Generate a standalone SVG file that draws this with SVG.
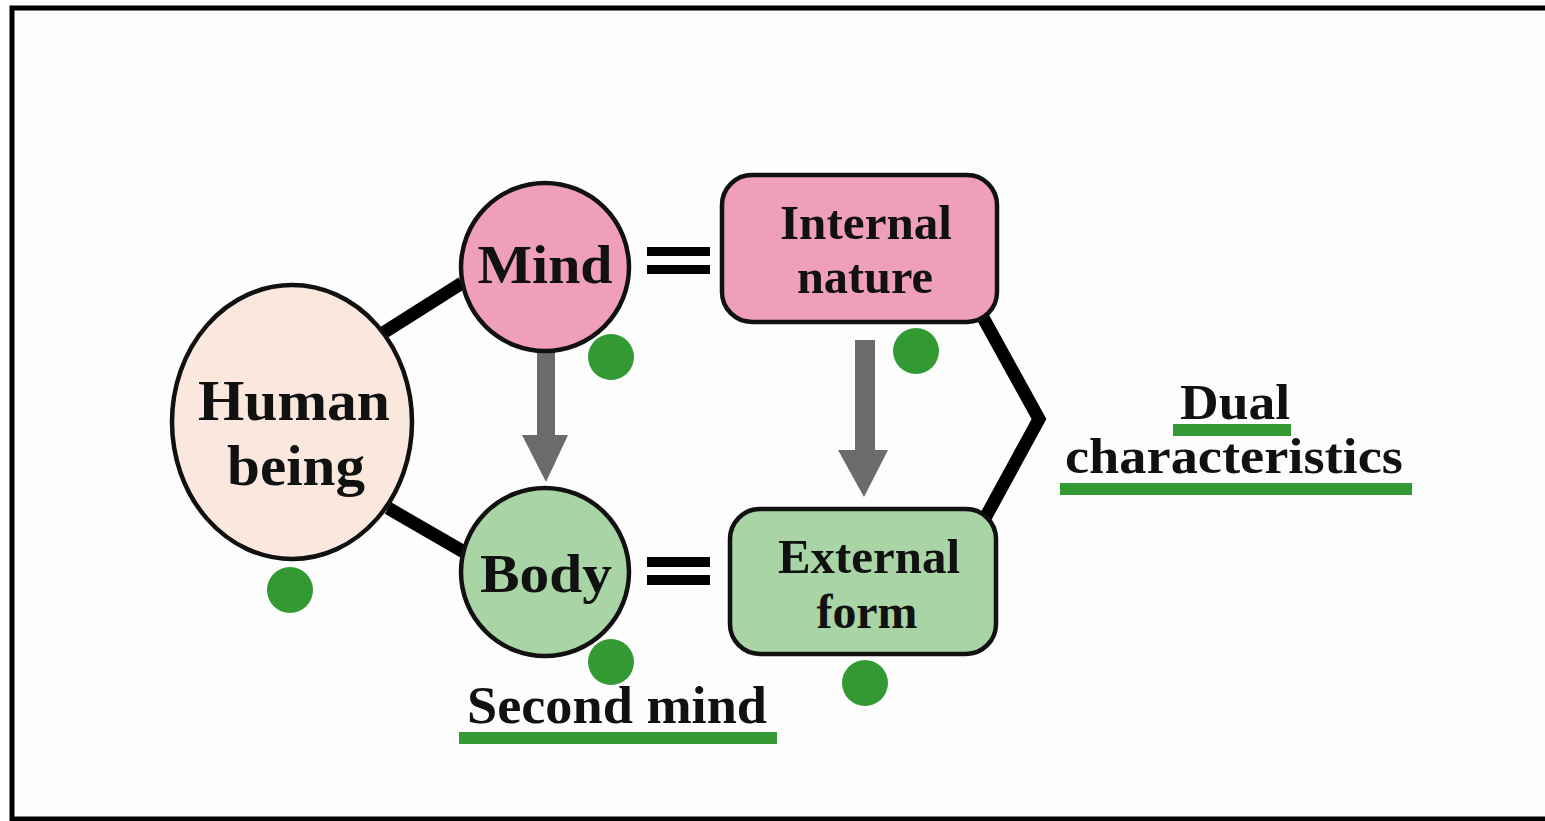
<svg xmlns="http://www.w3.org/2000/svg" width="1545" height="821" viewBox="0 0 1545 821">
  <defs>
    <style>
      .lbl { font-family: "Liberation Serif", "Times New Roman", serif; font-weight: bold; fill: #111; text-anchor: middle; }
      .node { stroke: #111; stroke-width: 4.5; }
      .pink { fill: #f09fba; }
      .green { fill: #a9d4a6; }
      .peach { fill: #fae8de; }
      .link { stroke: #000; stroke-width: 13; fill: none; }
      .flow { fill: #6b6b6b; }
      .dot { fill: #339933; }
      .uline { fill: #339933; }
      .eq { fill: #000; }
    </style>
  </defs>

  <!-- frame -->
  <rect x="0" y="0" width="1545" height="821" fill="#ffffff"/>
  <rect x="12" y="8" width="1545" height="811" fill="#fdfdfd" stroke="#000" stroke-width="5"/>

  <!-- connectors -->
  <g id="connectors">
    <line class="link" x1="383" y1="333" x2="462" y2="283"/>
    <line class="link" x1="388" y1="508" x2="464" y2="552"/>
    <polyline class="link" points="980,312 1039,419 984,520" stroke-linejoin="miter"/>
    <!-- equals signs -->
    <rect class="eq" x="647" y="247" width="63" height="9"/>
    <rect class="eq" x="647" y="265" width="63" height="9"/>
    <rect class="eq" x="647" y="557" width="63" height="10"/>
    <rect class="eq" x="647" y="575" width="63" height="10"/>
    <!-- grey arrows -->
    <path class="flow" d="M537,352 H555 V435 H568 L546,482 L522,435 H537 Z"/>
    <path class="flow" d="M855,340 H875 V450 H888 L864,497 L838,450 H855 Z"/>
  </g>

  <g id="human-being">
    <ellipse class="node peach" cx="292" cy="422" rx="120" ry="137"/>
    <text class="lbl" x="294" y="420" font-size="56" textLength="192" lengthAdjust="spacingAndGlyphs">Human</text>
    <text class="lbl" x="296" y="485" font-size="56" textLength="138" lengthAdjust="spacingAndGlyphs">being</text>
  </g>

  <g id="mind">
    <circle class="node pink" cx="545" cy="267" r="84"/>
    <text class="lbl" x="545" y="283" font-size="54" textLength="135" lengthAdjust="spacingAndGlyphs">Mind</text>
  </g>

  <g id="body">
    <circle class="node green" cx="545" cy="572" r="84"/>
    <text class="lbl" x="546" y="592" font-size="54" textLength="132" lengthAdjust="spacingAndGlyphs">Body</text>
  </g>

  <g id="internal-nature">
    <rect class="node pink" x="722" y="175" width="275" height="147" rx="30"/>
    <text class="lbl" x="866" y="239" font-size="48" textLength="172" lengthAdjust="spacingAndGlyphs">Internal</text>
    <text class="lbl" x="865" y="293" font-size="48" textLength="136" lengthAdjust="spacingAndGlyphs">nature</text>
  </g>

  <g id="external-form">
    <rect class="node green" x="730" y="509" width="266" height="145" rx="30"/>
    <text class="lbl" x="869" y="573" font-size="48" textLength="182" lengthAdjust="spacingAndGlyphs">External</text>
    <text class="lbl" x="867" y="628" font-size="48" textLength="101" lengthAdjust="spacingAndGlyphs">form</text>
  </g>

  <g id="dual-characteristics">
    <text class="lbl" x="1235" y="419" font-size="50" textLength="110" lengthAdjust="spacingAndGlyphs">Dual</text>
    <rect class="uline" x="1173" y="424" width="118" height="12"/>
    <text class="lbl" x="1234" y="473" font-size="50" textLength="338" lengthAdjust="spacingAndGlyphs">characteristics</text>
    <rect class="uline" x="1060" y="483" width="352" height="12"/>
  </g>

  <g id="second-mind">
    <text class="lbl" x="617" y="723" font-size="52" textLength="300" lengthAdjust="spacingAndGlyphs">Second mind</text>
    <rect class="uline" x="459" y="732" width="318" height="12"/>
  </g>

  <!-- markers -->
  <g id="dots">
    <circle class="dot" cx="611" cy="357" r="23"/>
    <circle class="dot" cx="916" cy="351" r="23"/>
    <circle class="dot" cx="290" cy="590" r="23"/>
    <circle class="dot" cx="611" cy="662" r="23"/>
    <circle class="dot" cx="865" cy="683" r="23"/>
  </g>
</svg>
